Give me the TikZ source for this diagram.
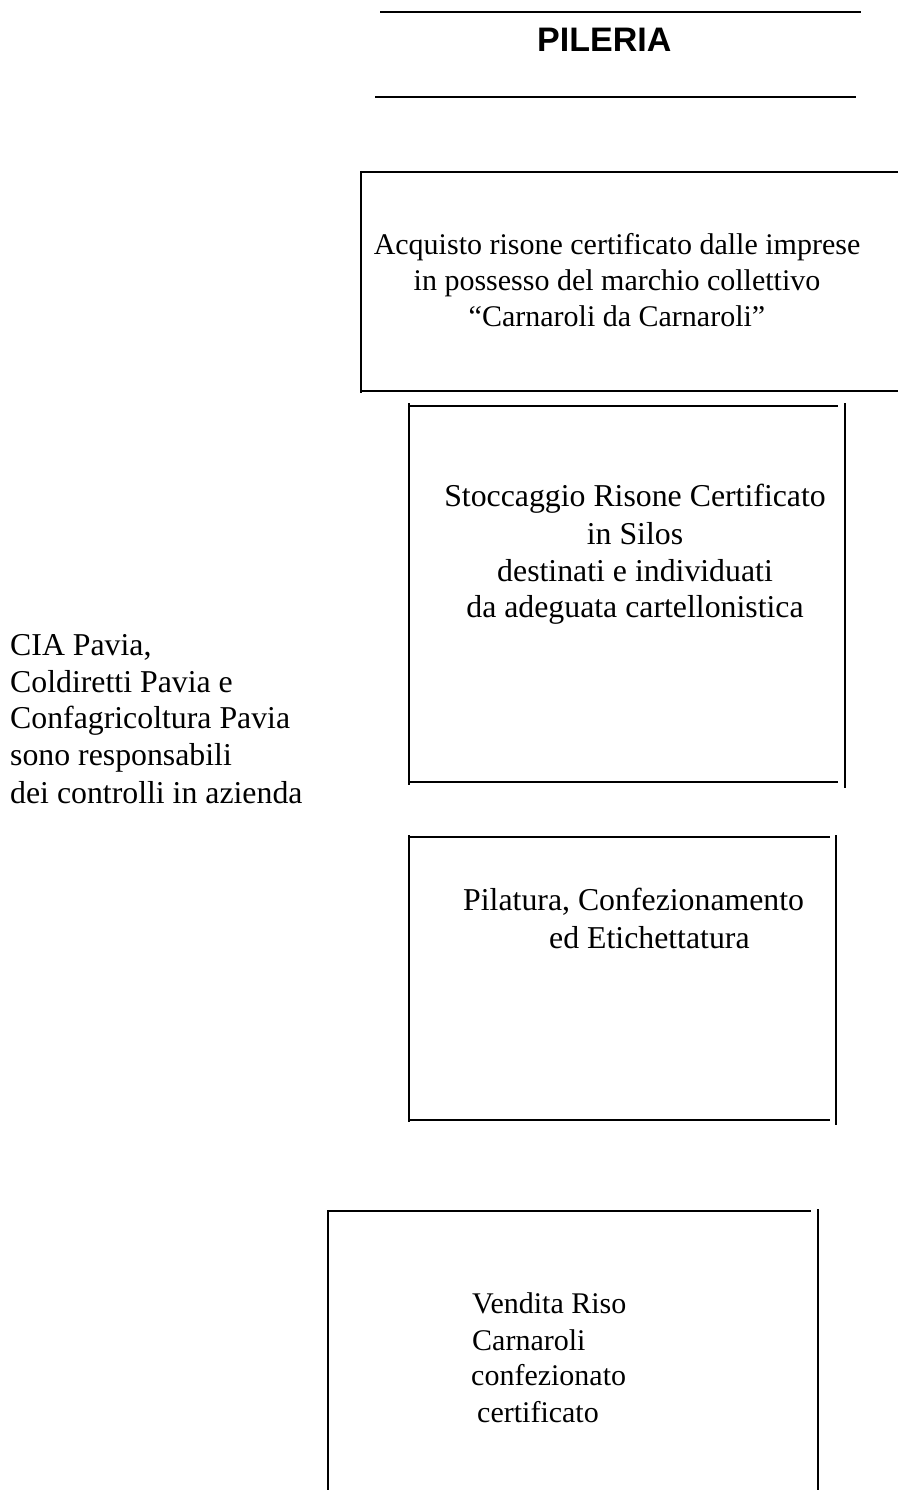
\documentclass[tikz,border=0pt]{standalone}
\usepackage{fontspec}
\setmainfont{Liberation Serif}
\newfontfamily\headfont{Liberation Sans}
\begin{document}
\begin{tikzpicture}[x=1pt,y=-1pt,
  rule/.style={line width=2pt},
  txt/.style={inner sep=0pt,font=\fontsize{31.8}{37}\selectfont},
  smalltxt/.style={inner sep=0pt,font=\fontsize{30}{36}\selectfont},
  head/.style={inner sep=0pt,font=\headfont\bfseries\fontsize{34}{40}\selectfont}]
\useasboundingbox (0,0) rectangle (898,1490);
% header
\draw[rule] (380,12) -- (861,12);
\node[head,anchor=base west] (title) at (537,52) {PILERIA};
\draw[rule] (375,97) -- (856,97);
% box 1
\draw[rule] (361,172) -- (898,172);
\draw[rule] (361,171) -- (361,393);
\draw[rule] (361,391) -- (898,391);
\node[smalltxt,align=center,anchor=base] (acq) at (617,326)
  {Acquisto risone certificato dalle imprese\\in possesso del marchio collettivo\\``Carnaroli da Carnaroli''};
% box 2
\draw[rule] (408,406) -- (838,406);
\draw[rule] (409,403) -- (409,785);
\draw[rule] (408,782) -- (838,782);
\draw[rule] (845,403) -- (845,788);
\node[txt,align=center,anchor=base] (stoc) at (635,617)
  {Stoccaggio Risone Certificato\\[1pt]in Silos\\destinati e individuati\\[-1pt]da adeguata cartellonistica};
% box 3
\draw[rule] (409,837) -- (830,837);
\draw[rule] (409,835) -- (409,1122);
\draw[rule] (409,1120) -- (830,1120);
\draw[rule] (836,835) -- (836,1125);
\node[txt,align=left,anchor=base west] (pil) at (463,948)
  {Pilatura, Confezionamento\\[1pt]\hspace*{86pt}ed Etichettatura};
% box 4
\draw[rule] (328,1211) -- (811,1211);
\draw[rule] (328,1210) -- (328,1490);
\draw[rule] (818,1209) -- (818,1490);
\node[smalltxt,align=left,anchor=base west] (vend) at (471,1422)
  {\hspace*{1pt}Vendita Riso\\[1pt]\hspace*{1pt}Carnaroli\\[-1pt]confezionato\\[1pt]\hspace*{6pt}certificato};
% left text
\node[txt,align=left,anchor=base west] (cia) at (10,803)
  {CIA Pavia,\\Coldiretti Pavia e\\[-1pt]Confagricoltura Pavia\\sono responsabili\\[1pt]dei controlli in azienda};
\end{tikzpicture}
\end{document}
